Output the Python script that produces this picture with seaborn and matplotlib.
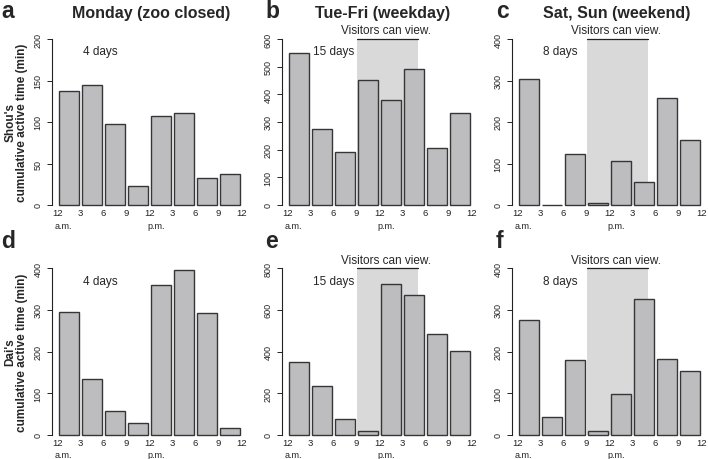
import matplotlib
matplotlib.use("Agg")
import matplotlib.pyplot as plt
import seaborn as sns
import pandas as pd

sns.set_style("white")
plt.rcParams["font.family"] = ["Liberation Sans", "DejaVu Sans"]

# --------------------------------------------------
# data (minutes of activity per 3-hour bin)
# --------------------------------------------------
bins = ["0-3", "3-6", "6-9", "9-12", "12-15", "15-18", "18-21", "21-24"]
hour_labels = ["12", "3", "6", "9", "12", "3", "6", "9", "12"]

shou_monday = [137, 145, 98, 23, 107, 111, 33, 37]
shou_weekday = [550, 273, 190, 452, 380, 492, 205, 333]
shou_weekend = [303, 1, 123, 6, 107, 56, 257, 156]
dai_monday = [295, 135, 58, 29, 361, 397, 293, 16]
dai_weekday = [351, 232, 75, 18, 723, 673, 482, 404]
dai_weekend = [275, 43, 179, 10, 97, 327, 181, 154]

titles = ["Monday (zoo closed)", "Tue-Fri (weekday)", "Sat, Sun (weekend)"]
letters = ["a", "b", "c", "d", "e", "f"]
day_counts = ["4 days", "15 days", "8 days"]
ylabels = ["Shou's\ncumulative active time (min)", "Dai's\ncumulative active time (min)"]
y_max = [200, 600, 400, 400, 800, 400]
y_step = [50, 100, 100, 100, 200, 100]
visit_start, visit_end = 9, 17   # hours, zoo open to visitors

panels = [shou_monday, shou_weekday, shou_weekend, dai_monday, dai_weekday, dai_weekend]

# --------------------------------------------------
# layout (pixels)
# --------------------------------------------------
W, H = 708, 460
BIN = 23.0
row_top = [40, 269.3]
row_bot = [206, 435.7]
BAR = "#bdbdbf"
EDGE = "#363636"
SHADE = "#d9d9d9"

fig = plt.figure(figsize=(W / 100, H / 100), dpi=100)

for i, vals in enumerate(panels):
    r, c = divmod(i, 3)
    b0 = 57.5 + 230 * c
    left = b0 - 5.5
    right = b0 + 8 * BIN + 2
    top, bot = row_top[r], row_bot[r]
    ax = fig.add_axes([left / W, 1 - bot / H, (right - left) / W, (bot - top) / H])

    df = pd.DataFrame({"bin": bins, "minutes": vals})
    sns.barplot(data=df, x="bin", y="minutes", order=bins, color=BAR,
                saturation=1, edgecolor=EDGE, linewidth=1.0, width=0.87, ax=ax)
    for p in ax.patches:
        p.set_clip_on(False)

    ymax = y_max[i]
    ax.set_xlim(-0.5 - 5.5 / BIN, 7.5 + 2 / BIN)
    ax.set_ylim(0, ymax)
    ax.set_xlabel("")
    ax.set_ylabel("")

    for s in ["top", "right", "bottom"]:
        ax.spines[s].set_visible(False)
    ax.spines["left"].set_bounds(0, ymax)
    ax.spines["left"].set_linewidth(0.8)
    ax.spines["left"].set_color("#222222")

    ax.set_yticks(range(0, ymax + 1, y_step[i]))
    ax.tick_params(axis="y", left=True, direction="out", length=3.3, width=0.7,
                   colors="#222222", labelsize=6.5, pad=3.5, labelrotation=90)
    for t in ax.get_yticklabels():
        t.set_verticalalignment("center")

    ax.set_xticks([k - 0.5 for k in range(9)])
    ax.set_xticklabels(hour_labels)
    ax.tick_params(axis="x", bottom=True, length=0, labelsize=6.8, pad=2.2,
                   colors="#222222")

    trans = ax.get_xaxis_transform()
    for k, lab in [(0, "a.m."), (4, "p.m.")]:
        ax.annotate(lab, xy=(k - 0.5, 0), xycoords=trans, xytext=(-1.8, -14.6),
                    textcoords="offset points", ha="left", va="center",
                    fontsize=6.5, color="#222222")

    # visitor viewing hours
    if c > 0:
        x0 = visit_start / 3 - 0.5
        x1 = visit_end / 3 - 0.5
        ax.axvspan(x0, x1, color=SHADE, zorder=0, lw=0)
        ax.plot([x0, x1], [ymax, ymax], color="#222222", lw=0.9, clip_on=False)
        ax.annotate("Visitors can view.", xy=((x0 + x1) / 2 - 0.03, 1), xycoords=trans,
                    xytext=(0, 2), textcoords="offset points", ha="center",
                    va="bottom", fontsize=8.5)

    ax.text(0.6, 0.925, day_counts[c], transform=trans, ha="left", va="center",
            fontsize=8.5)

    # panel letter
    lx = [1, 265, 496][c]
    ly = [18.3, 248][r]
    fig.text(lx / W, 1 - ly / H, letters[i], fontsize=16.5, fontweight="bold",
             ha="left", va="baseline")

    if r == 0:
        tx = [151, 383, 617][c]
        fig.text(tx / W, 1 - 18.3 / H, titles[c], fontsize=11.5, fontweight="bold",
                 ha="center", va="baseline")

    if c == 0:
        fig.text(16.5 / W, 1 - (top + bot) / 2 / H, ylabels[r], rotation=90,
                 ha="center", va="center", fontsize=8.5, fontweight="bold",
                 linespacing=1.0, multialignment="center")

fig.savefig("out.png", dpi=100)
